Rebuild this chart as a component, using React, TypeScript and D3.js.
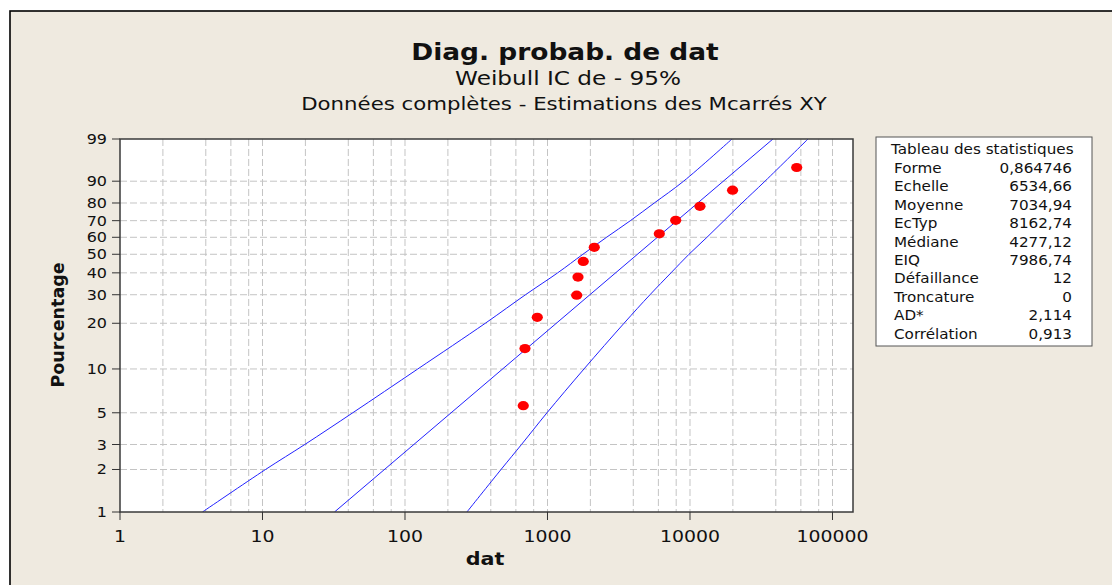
import React from "react";
import * as d3 from "d3";

// ---- data ----
const yTickPercents = [1, 2, 3, 5, 10, 20, 30, 40, 50, 60, 70, 80, 90, 99];
const xTickValues = [1, 10, 100, 1000, 10000, 100000];
const xGridMultipliers = [1, 2, 4, 6, 8];

const pointPercents = [5.6, 13.7, 21.8, 29.8, 37.9, 46.0, 54.0, 62.1, 70.2, 78.2, 86.3, 94.4];
const pointValues = [676, 695, 848, 1603, 1637, 1783, 2130, 6090, 7940, 11750, 19900, 56100];

const fitPercents = [1, 99];
const fitValues = [32, 38200];

const bandPercents = [1, 2, 3, 5, 10, 20, 30, 40, 50, 60, 70, 80, 90, 99];
const bandLower = [3.79, 10.5, 19.8, 43.0, 123, 366, 701, 1179, 1772, 2598, 3817, 5616, 9019, 19710];
const bandUpper = [272, 472, 657, 992, 1804, 3443, 5240, 7356, 9840, 13160, 17320, 23170, 33600, 67300];

const statLabels = ["Forme", "Echelle", "Moyenne", "EcTyp", "Médiane", "EIQ", "Défaillance", "Troncature", "AD*", "Corrélation"];
const statValues = ["0,864746", "6534,66", "7034,94", "8162,74", "4277,12", "7986,74", "12", "0", "2,114", "0,913"];

const W = 1112;
const H = 585;
const L = 120, R = 853, T = 139, B = 512;
const FONT = "'DejaVu Sans', Verdana, sans-serif";
const SX = 1.15;

const wt = (p: number) => Math.log(-Math.log(1 - p / 100));
const x = d3.scaleLog().domain([1, 139300]).range([L, R]);
const yW = d3.scaleLinear().domain([wt(1), wt(99)]).range([B, T]);
const y = (p: number) => yW(wt(p));

function Txt(props: { x: number; y: number; size: number; bold?: boolean; anchor?: string; sx?: number; rot?: number; fill?: string; children: React.ReactNode }) {
  const { x: tx, y: ty, size, bold, anchor = "start", sx = SX, rot = 0, fill = "#111", children } = props;
  return (
    <text
      transform={`translate(${tx},${ty}) rotate(${rot}) scale(${sx},1)`}
      fontFamily={FONT}
      fontSize={size}
      fontWeight={bold ? "bold" : "normal"}
      textAnchor={anchor as any}
      fill={fill}
    >
      {children}
    </text>
  );
}

export default function App() {
  const xGrid: number[] = [];
  for (let e = 0; e <= 5; e++) {
    for (const m of xGridMultipliers) {
      const v = m * Math.pow(10, e);
      if (v > 1 && v < 139300) xGrid.push(v);
    }
  }
  const yGrid = yTickPercents.filter((p) => p > 1 && p < 99);

  const line = d3
    .line<[number, number]>()
    .x((d) => x(d[0]))
    .y((d) => y(d[1]))
    .curve(d3.curveCatmullRom.alpha(0.5));

  const fitPath = line(fitValues.map((v, i) => [v, fitPercents[i]]) as [number, number][]) || "";
  const lowPath = line(bandLower.map((v, i) => [v, bandPercents[i]]) as [number, number][]) || "";
  const upPath = line(bandUpper.map((v, i) => [v, bandPercents[i]]) as [number, number][]) || "";

  const tabX = 876, tabY = 137, tabW = 216, tabH = 209;
  const rowStep = 18.45;

  return (
    <svg width={W} height={H} style={{ position: "absolute", left: 0, top: 0, background: "#fff" }}>
      <rect x={0} y={0} width={W} height={H} fill="#fff" />
      <rect x={10} y={11} width={W + 50} height={H + 50} fill="#EFEAE0" stroke="#000" strokeWidth={1.6} />

      {/* titles */}
      <Txt x={565} y={60} size={23} bold anchor="middle">Diag. probab. de dat</Txt>
      <Txt x={568} y={85} size={19} anchor="middle" sx={1.22}>Weibull IC de - 95%</Txt>
      <Txt x={564} y={110} size={18.5} anchor="middle">Données complètes - Estimations des Mcarrés XY</Txt>

      {/* plot area */}
      <rect x={L} y={T} width={R - L} height={B - T} fill="#fff" />
      <defs>
        <clipPath id="plotclip">
          <rect x={L} y={T} width={R - L} height={B - T} />
        </clipPath>
      </defs>
      <g stroke="#c4c4c4" strokeWidth={1} strokeDasharray="7,3">
        {xGrid.map((v) => (
          <line key={"gx" + v} x1={x(v)} x2={x(v)} y1={T} y2={B} />
        ))}
        {yGrid.map((p) => (
          <line key={"gy" + p} x1={L} x2={R} y1={y(p)} y2={y(p)} />
        ))}
      </g>

      <g clipPath="url(#plotclip)" fill="none" stroke="#2222ff" strokeWidth={1}>
        <path d={lowPath} />
        <path d={fitPath} />
        <path d={upPath} />
      </g>

      <g fill="#ff0000">
        {pointValues.map((v, i) => (
          <ellipse key={"p" + i} cx={x(v)} cy={y(pointPercents[i])} rx={5.6} ry={4.6} />
        ))}
      </g>

      <rect x={L} y={T} width={R - L} height={B - T} fill="none" stroke="#3a3a3a" strokeWidth={1.5} />

      {/* axes ticks */}
      <g stroke="#333" strokeWidth={1}>
        {yTickPercents.map((p) => (
          <line key={"ty" + p} x1={L - 8} x2={L} y1={y(p)} y2={y(p)} />
        ))}
        {xTickValues.map((v) => (
          <line key={"tx" + v} x1={x(v)} x2={x(v)} y1={B} y2={B + 8} />
        ))}
      </g>
      {yTickPercents.map((p) => (
        <Txt key={"ly" + p} x={107} y={y(p) + 5} size={13.9} anchor="end">
          {String(p)}
        </Txt>
      ))}
      {xTickValues.map((v) => (
        <Txt key={"lx" + v} x={x(v)} y={542} size={16.4} anchor="middle">
          {String(v)}
        </Txt>
      ))}
      <Txt x={485} y={565} size={18} bold anchor="middle">dat</Txt>
      <Txt x={64} y={325} size={17.5} bold anchor="middle" rot={-90} sx={1}>Pourcentage</Txt>

      {/* statistics table */}
      <rect x={tabX} y={tabY} width={tabW} height={tabH} fill="#fff" stroke="#555" strokeWidth={1} />
      <Txt x={891} y={154} size={13.2}>Tableau des statistiques</Txt>
      {statLabels.map((s, i) => (
        <Txt key={"sl" + i} x={894} y={172.7 + i * rowStep} size={13.2}>
          {s}
        </Txt>
      ))}
      {statValues.map((s, i) => (
        <Txt key={"sv" + i} x={1072} y={172.7 + i * rowStep} size={13.2} anchor="end">
          {s}
        </Txt>
      ))}
    </svg>
  );
}
